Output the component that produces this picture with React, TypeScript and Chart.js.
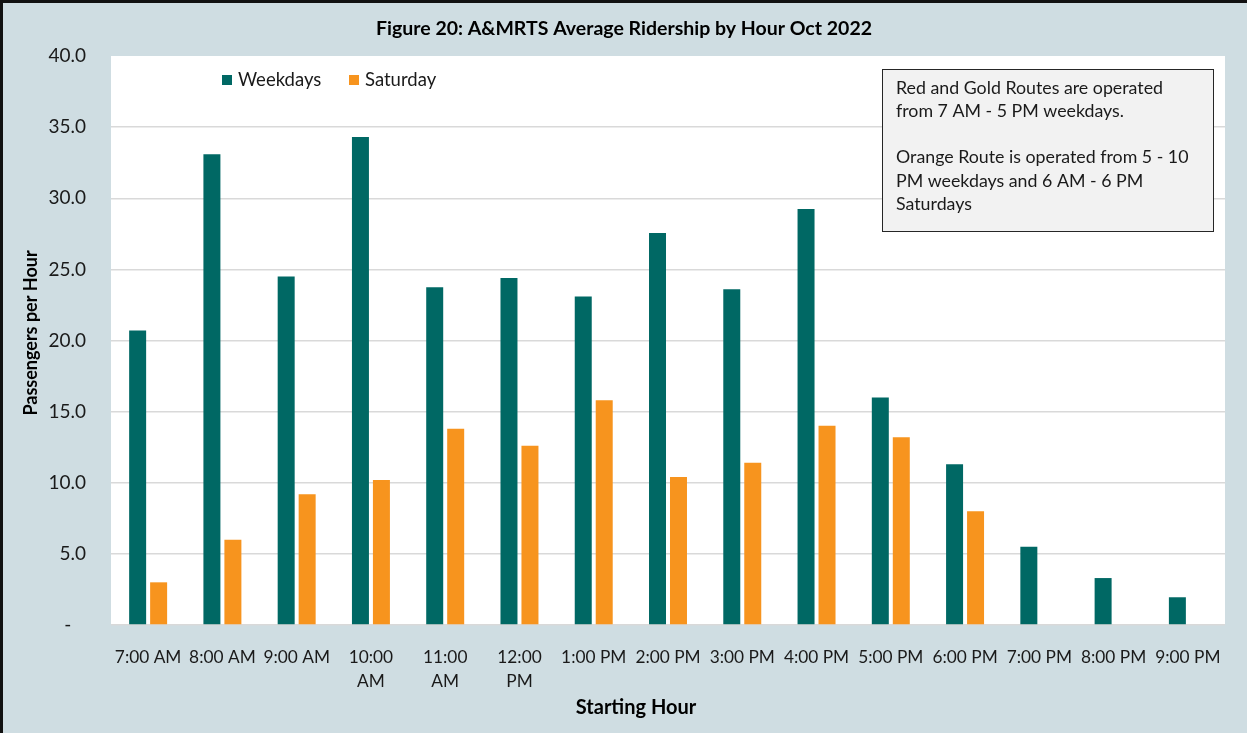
import React, { useEffect, useRef } from "react";
import { Chart, registerables } from "chart.js";

Chart.register(...registerables);

const TITLE = "Figure 20: A&MRTS Average Ridership by Hour Oct 2022";
const categories: (string | string[])[] = [
  "7:00 AM", "8:00 AM", "9:00 AM", ["10:00", "AM"], ["11:00", "AM"], ["12:00", "PM"],
  "1:00 PM", "2:00 PM", "3:00 PM", "4:00 PM", "5:00 PM", "6:00 PM", "7:00 PM", "8:00 PM", "9:00 PM",
];
const weekdays = [20.7, 33.1, 24.5, 34.3, 23.75, 24.4, 23.1, 27.55, 23.6, 29.25, 16.0, 11.3, 5.5, 3.3, 1.95];
const saturday = [3.0, 6.0, 9.2, 10.2, 13.8, 12.6, 15.8, 10.4, 11.4, 14.0, 13.2, 8.0, null, null, null];
const seriesNames = ["Weekdays", "Saturday"];
const yTitle = "Passengers per Hour";
const xTitle = "Starting Hour";
const noteLines = [
  "Red and Gold Routes are operated",
  "from 7 AM - 5 PM weekdays.",
  "",
  "Orange Route is operated from 5 - 10",
  "PM weekdays and 6 AM - 6 PM",
  "Saturdays",
];

const TEAL = "#006864";
const ORANGE = "#F7941E";
const BG = "#CFDDE2";
const FONT = "Lato, 'Open Sans', sans-serif";

const decorPlugin = {
  id: "decor",
  beforeDraw(chart: any) {
    const { ctx, width, height, chartArea } = chart;
    ctx.save();
    ctx.fillStyle = BG;
    ctx.fillRect(0, 0, width, height);
    ctx.fillStyle = "#ffffff";
    ctx.fillRect(chartArea.left, chartArea.top, chartArea.right - chartArea.left, chartArea.bottom - chartArea.top);
    ctx.restore();
  },
  afterDraw(chart: any) {
    const { ctx, width, height } = chart;
    ctx.save();
    // outer border (left & top visible)
    ctx.strokeStyle = "#111";
    ctx.lineWidth = 3;
    ctx.beginPath();
    ctx.moveTo(1.5, height);
    ctx.lineTo(1.5, 1.5);
    ctx.lineTo(width, 1.5);
    ctx.stroke();

    // title
    ctx.fillStyle = "#000";
    ctx.font = `bold 19.5px ${FONT}`;
    ctx.textAlign = "center";
    ctx.textBaseline = "middle";
    ctx.fillText(TITLE, 624, 29);

    // axis titles
    ctx.font = `bold 20px ${FONT}`;
    ctx.fillText(xTitle, 636, 708);
    ctx.save();
    ctx.translate(31, 333);
    ctx.rotate(-Math.PI / 2);
    ctx.font = `bold 18px ${FONT}`;
    ctx.fillText(yTitle, 0, 0);
    ctx.restore();

    // legend
    const colors = [TEAL, ORANGE];
    const lx = [222, 349];
    ctx.font = `18.5px ${FONT}`;
    ctx.textAlign = "left";
    seriesNames.forEach((name, i) => {
      ctx.fillStyle = colors[i];
      ctx.fillRect(lx[i], 75, 10, 10);
      ctx.fillStyle = "#1a1a1a";
      ctx.fillText(name, lx[i] + 16, 80);
    });

    // note box
    const bx = 882.5, by = 69.5, bw = 331, bh = 162;
    ctx.fillStyle = "#F2F2F2";
    ctx.fillRect(bx, by, bw, bh);
    ctx.strokeStyle = "#262626";
    ctx.lineWidth = 1;
    ctx.strokeRect(bx, by, bw, bh);
    ctx.fillStyle = "#1a1a1a";
    ctx.font = `17.8px ${FONT}`;
    noteLines.forEach((line, i) => {
      if (line) ctx.fillText(line, 896, 88 + i * 23.2);
    });
    ctx.restore();
  },
};

export default function App() {
  const ref = useRef<HTMLCanvasElement | null>(null);
  useEffect(() => {
    if (!ref.current) return;
    const chart = new Chart(ref.current, {
      type: "bar",
      data: {
        labels: categories as any,
        datasets: [
          { label: seriesNames[0], data: weekdays, backgroundColor: TEAL, barPercentage: 0.81, categoryPercentage: 0.565 },
          { label: seriesNames[1], data: saturday as any, backgroundColor: ORANGE, barPercentage: 0.81, categoryPercentage: 0.565 },
        ],
      },
      options: {
        animation: false,
        responsive: false,
        devicePixelRatio: 1,
        layout: { padding: { left: 10, right: 22, top: 56, bottom: 8 } },
        plugins: {
          legend: { display: false },
          title: { display: false },
          tooltip: { enabled: false },
        },
        scales: {
          x: {
            grid: { display: false },
            border: { display: false },
            ticks: {
              color: "#1a1a1a",
              font: { family: FONT, size: 17.3, lineHeight: 1.4 },
              padding: 12,
              maxRotation: 0,
              autoSkip: false,
            },
            title: { display: false },
            afterFit: (scale: any) => { scale.height = 100; },
          },
          y: {
            min: 0,
            max: 40,
            grid: {
              color: (c: any) => (c.tick && c.tick.value === 40 ? "rgba(0,0,0,0)" : "#D9D9D9"),
              lineWidth: 1.5,
              drawTicks: false,
            },
            border: { display: false },
            ticks: {
              stepSize: 5,
              color: "#1a1a1a",
              font: { family: FONT, size: 19 },
              padding: 25,
              callback: (v: any) => (Number(v) === 0 ? "-   " : Number(v).toFixed(1)),
            },
            title: { display: false },
            afterFit: (scale: any) => { scale.width = 101; },
          },
        },
      },
      plugins: [decorPlugin],
    });
    return () => chart.destroy();
  }, []);
  return (
    <div style={{ position: "fixed", left: 0, top: 0, width: 1247, height: 733, background: BG }}>
      <canvas ref={ref} width={1247} height={733} style={{ display: "block", width: 1247, height: 733 }} />
    </div>
  );
}
